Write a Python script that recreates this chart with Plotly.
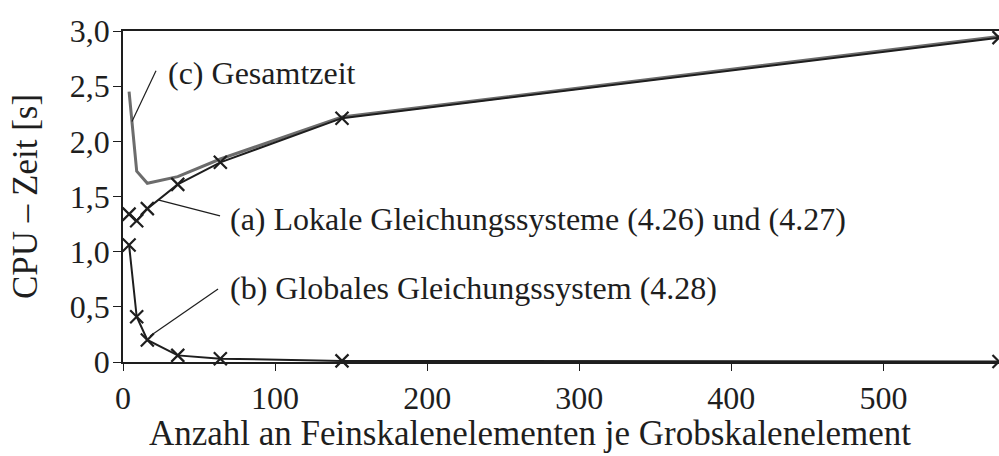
import plotly.graph_objects as go

# Anzahl Feinskalenelemente je Grobskalenelement
n_elem = [4, 9, 16, 36, 64, 144, 576]
# CPU-Zeiten [s]
t_lokal = [1.34, 1.28, 1.39, 1.61, 1.81, 2.21, 2.94]
t_global = [1.06, 0.41, 0.20, 0.06, 0.03, 0.01, 0.005]
t_gesamt = [2.45, 1.73, 1.62, 1.68, 1.84, 2.22, 2.95]

x_ticks = [0, 100, 200, 300, 400, 500]
x_ticktext = ["0", "100", "200", "300", "400", "500"]
y_ticks = [0, 0.5, 1.0, 1.5, 2.0, 2.5, 3.0]
y_ticktext = ["0", "0,5", "1,0", "1,5", "2,0", "2,5", "3,0"]

FONT = "Liberation Serif"
INK = "#1e1e1e"

fig = go.Figure()

fig.add_trace(go.Scatter(
    x=n_elem, y=t_gesamt, mode="lines",
    line=dict(color="#6c6c6c", width=3),
    showlegend=False, cliponaxis=False,
))
fig.add_trace(go.Scatter(
    x=n_elem, y=t_lokal, mode="lines+markers",
    line=dict(color=INK, width=2),
    marker=dict(symbol="x-thin-open", size=13, line=dict(color=INK, width=2.2)),
    showlegend=False, cliponaxis=False,
))
fig.add_trace(go.Scatter(
    x=n_elem, y=t_global, mode="lines+markers",
    line=dict(color=INK, width=2),
    marker=dict(symbol="x-thin-open", size=13, line=dict(color=INK, width=2.2)),
    showlegend=False, cliponaxis=False,
))

# Beschriftungen mit Hinweislinien
labels = [
    ("(c) Gesamtzeit", 28.3, 2.62, (21.7, 2.64, 5.9, 2.18)),
    ("(a) Lokale Gleichungssysteme (4.26) und (4.27)", 69.0, 1.30, (23.0, 1.469, 63.8, 1.324)),
    ("(b) Globales Gleichungssystem (4.28)", 69.0, 0.67, (17.8, 0.236, 62.5, 0.662)),
]
for text, tx, ty, (x0, y0, x1, y1) in labels:
    fig.add_annotation(
        x=tx, y=ty, text=text, showarrow=False,
        xanchor="left", yanchor="middle",
        font=dict(family=FONT, size=32, color=INK),
    )
    fig.add_shape(
        type="line", x0=x0, y0=y0, x1=x1, y1=y1,
        line=dict(color=INK, width=1.2),
    )

# x-Achsentitel
fig.add_annotation(
    xref="paper", yref="paper", x=0.4646, y=-0.2175,
    xanchor="center", yanchor="middle", showarrow=False,
    text="Anzahl an Feinskalenelementen je Grobskalenelement",
    font=dict(family=FONT, size=35, color=INK),
)

fig.update_layout(
    width=999, height=456,
    margin=dict(l=123, r=0, t=31, b=94),
    paper_bgcolor="white", plot_bgcolor="white",
    font=dict(family=FONT, color=INK),
)
fig.update_xaxes(
    range=[0, 576], tickvals=x_ticks, ticktext=x_ticktext,
    showgrid=False, zeroline=False,
    showline=True, linecolor=INK, linewidth=2, mirror=True,
    ticks="outside", ticklen=7, tickwidth=1.2, tickcolor=INK,
    tickfont=dict(family=FONT, size=32, color=INK),
)
fig.update_yaxes(
    range=[0, 3.0], tickvals=y_ticks, ticktext=y_ticktext,
    showgrid=False, zeroline=False,
    showline=True, linecolor=INK, linewidth=1.5,
    ticks="outside", ticklen=8, tickwidth=1.2, tickcolor=INK,
    ticklabelstandoff=-3,
    tickfont=dict(family=FONT, size=32, color=INK),
    title=dict(text="CPU – Zeit [s]",
               font=dict(family=FONT, size=35, color=INK), standoff=22),
)

fig.write_html("out.html")
